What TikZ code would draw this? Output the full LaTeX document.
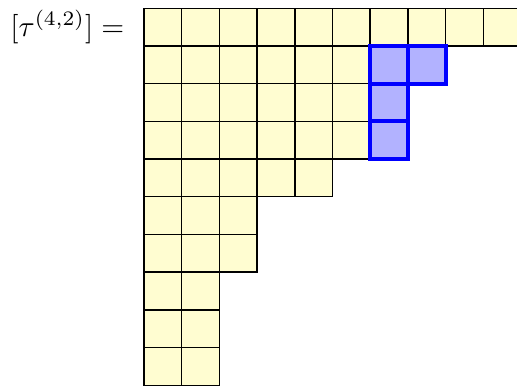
\documentclass[tikz,border=0pt]{standalone}
\usepackage{amsmath}
\usetikzlibrary{positioning}

\begin{document}
\begin{tikzpicture}[
  node distance=2mm,
  cell/.style={draw, fill=yellow!18, minimum size=4.1mm, inner sep=0pt,
               line width=0.45pt},
  hook/.style={cell, draw=blue, fill=blue!30, line width=1.2pt},
  lhs/.style={inner sep=0pt, anchor=east, scale=0.91, transform shape}
]
  \useasboundingbox (-15.66mm,0.90mm) rectangle (40.57mm,-41.30mm);
  % Young diagram, row by row
  \foreach \len [count=\r] in {10,8,7,7,5,3,3,2,2,2}
    \foreach \c in {1,...,\len}
      \node[cell] (c-\r-\c) at (\c*4.1mm-2.05mm, -\r*4.1mm+2.05mm) {};
  % Hook cells
  \foreach \r/\c in {2/7,2/8,3/7,4/7}
    \node[hook] (h-\r-\c) at (c-\r-\c) {};
  % Label
  \node[lhs, left=2mm of c-1-1] (lbl) {$[\tau^{(4,2)}] =$};
\end{tikzpicture}
\end{document}
